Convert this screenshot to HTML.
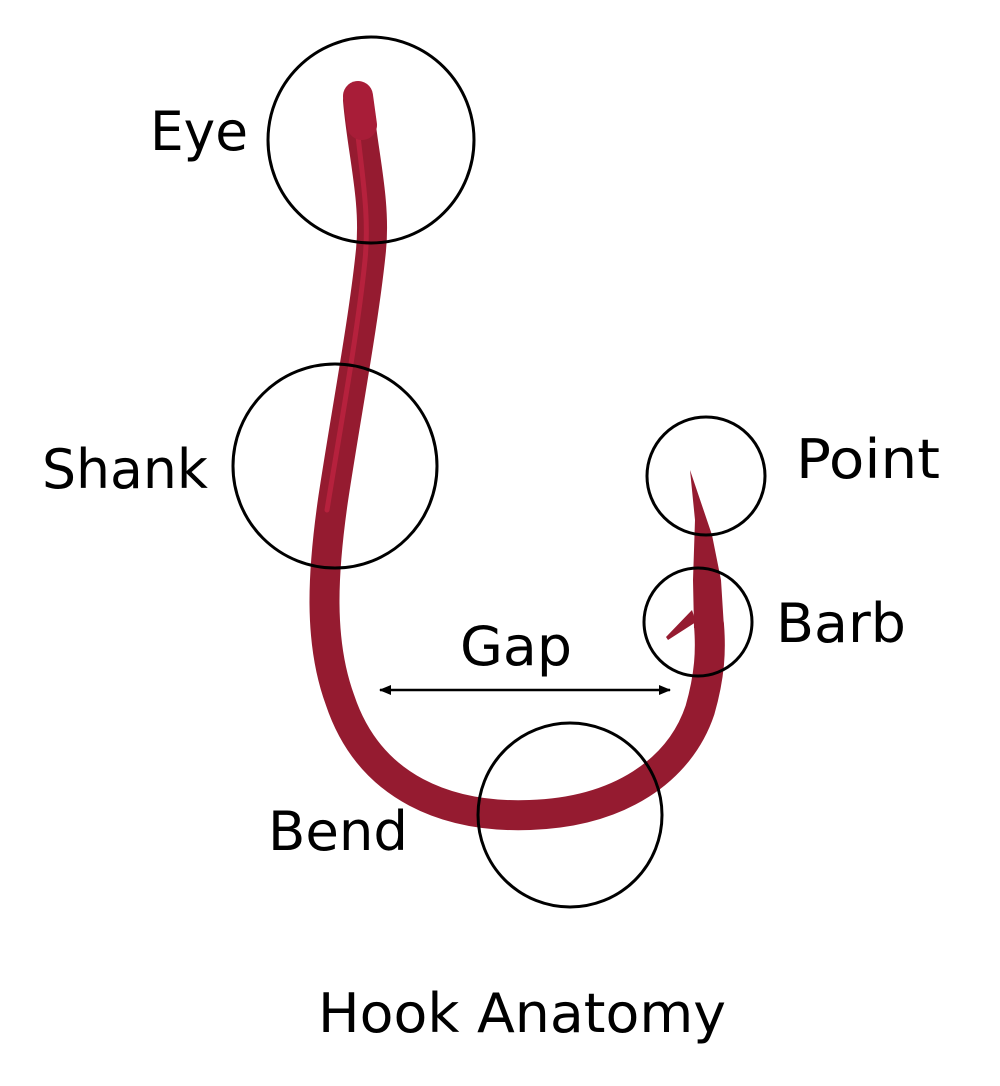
<!DOCTYPE html>
<html><head><meta charset="utf-8"><style>html,body{margin:0;padding:0;background:#fff}svg{display:block}</style></head>
<body>
<svg width="1000" height="1086" viewBox="0 0 1000 1086" xmlns="http://www.w3.org/2000/svg">
<defs>
<marker id="ah" viewBox="0 0 12 10" refX="11" refY="5" markerWidth="12" markerHeight="10" markerUnits="userSpaceOnUse" orient="auto-start-reverse"><path d="M0,0 L12,5 L0,10 Z" fill="#000"/></marker>
</defs>
<g fill="none" stroke-linecap="round">
<path d="M358,100 C362,150 376,200 371,250 C364,320 345,420 333,500 C323,570 318,640 340,700 C370,790 450,818 530,815 C620,812 680,770 700,710 C710,675 711,650 709,625" stroke="#951b30" stroke-width="30"/>
<path d="M356,115 C360,165 370,210 365,260 C358,330 340,430 327,510" stroke="#d8284a" stroke-width="5" opacity="0.5"/>
<path d="M358,96 L362,125" stroke="#a81d38" stroke-width="30"/>
</g>
<polygon points="694,628 724,628 721,580 712,535 690,470 695,520 693,580" fill="#951b30"/>
<polygon points="696,622 668,640 666,637 692,610" fill="#951b30"/>
<g fill="none" stroke="#000" stroke-width="3">
<circle cx="371" cy="140" r="103"/>
<circle cx="335" cy="466" r="102"/>
<circle cx="706" cy="476" r="59"/>
<circle cx="698" cy="622" r="54"/>
<circle cx="570" cy="815" r="92"/>
</g>
<line x1="380" y1="690" x2="670" y2="690" stroke="#000" stroke-width="2.5" marker-start="url(#ah)" marker-end="url(#ah)"/>
<g font-family="DejaVu Sans, Liberation Sans, sans-serif" font-size="54" fill="#000">
<text x="150" y="150" textLength="98" lengthAdjust="spacingAndGlyphs">Eye</text>
<text x="42" y="488" textLength="166" lengthAdjust="spacingAndGlyphs">Shank</text>
<text x="796" y="478" textLength="144" lengthAdjust="spacingAndGlyphs">Point</text>
<text x="776" y="642" textLength="130" lengthAdjust="spacingAndGlyphs">Barb</text>
<text x="460" y="665" textLength="112" lengthAdjust="spacingAndGlyphs">Gap</text>
<text x="268" y="850" textLength="140" lengthAdjust="spacingAndGlyphs">Bend</text>
<text x="318" y="1032" textLength="408" lengthAdjust="spacingAndGlyphs">Hook Anatomy</text>
</g>
</svg>
</body></html>
